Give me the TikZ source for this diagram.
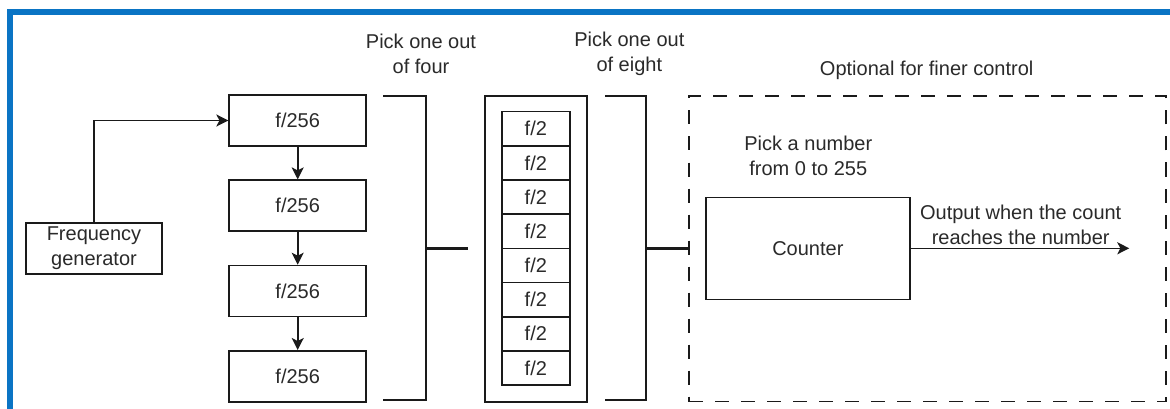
\documentclass[tikz,border=0pt]{standalone}
\usepackage{fontspec}
\setmainfont{Liberation Sans}
\usetikzlibrary{arrows.meta}
\definecolor{frameblue}{HTML}{0A74C4}
\definecolor{ink}{HTML}{1A1A1A}
\definecolor{txt}{HTML}{2A2A2A}
\tikzset{
  lbl/.style={font=\fontsize{20}{25}\selectfont, text=txt, align=center, inner sep=0pt},
  box/.style={draw=ink, line width=1.6pt, rectangle, inner sep=0pt, font=\fontsize{20}{25}\selectfont, text=txt, align=center},
  brk/.style={draw=ink, line width=2.4pt},
  arr/.style={draw=ink, line width=1.6pt, -{Stealth[length=12pt,width=12pt,inset=3pt]}},
  dashbox/.style={draw=ink, line width=1.8pt, dash pattern=on 14pt off 12pt, rectangle, inner sep=0pt}
}
\begin{document}
\begin{tikzpicture}[x=1pt,y=-1pt]
\useasboundingbox (0,0) rectangle (1170,409);
\fill[white] (0,0) rectangle (1170,409);
% blue frame
\draw[frameblue, line width=6pt] (9.7,415) -- (9.7,12) -- (1175,12);

% frequency generator
\node[box, minimum width=136pt, minimum height=51pt] (gen) at (94,248.5) {Frequency\\generator};

% f/256 chain
\node[box, minimum width=137pt, minimum height=51pt] (d1) at (297.7,120.5) {f/256};
\node[box, minimum width=137pt, minimum height=51pt] (d2) at (297.7,205.7) {f/256};
\node[box, minimum width=137pt, minimum height=51pt] (d3) at (297.7,291) {f/256};
\node[box, minimum width=137pt, minimum height=51pt] (d4) at (297.7,376.3) {f/256};
\draw[arr] (gen.north) |- (d1.west);
\draw[arr] (d1.south) -- (d2.north);
\draw[arr] (d2.south) -- (d3.north);
\draw[arr] (d3.south) -- (d4.north);

% bracket 1
\coordinate (b1t) at (383,96);
\coordinate (b1tr) at (426,96);
\coordinate (b1br) at (426,400);
\coordinate (b1b) at (383,400);
\coordinate (b1m) at (426,248.3);
\coordinate (b1e) at (468,248.3);
\draw[brk] (b1t) -- (b1tr) -- (b1br) -- (b1b);
\draw[brk] (b1m) -- (b1e);
\node[lbl] (l1) at (421,54) {Pick one out\\of four};

% f/2 stack
\node[box, minimum width=102pt, minimum height=306pt] (fbox) at (536,249) {};
\foreach \i in {0,...,7} {
  \node[box, minimum width=68.3pt, minimum height=34.17pt] (c\i) at (535.85,{128.78+34.17*\i}) {f/2};
}

% bracket 2
\coordinate (b2t) at (605,96);
\coordinate (b2tr) at (645.7,96);
\coordinate (b2br) at (645.7,400);
\coordinate (b2b) at (605,400);
\coordinate (b2m) at (645.7,248.3);
\draw[brk] (b2t) -- (b2tr) -- (b2br) -- (b2b);
\node[lbl] (l2) at (629.3,54) {Pick one out\\of eight};

% optional block
\node[dashbox, minimum width=477pt, minimum height=305.5pt] (opt) at (927.5,248.75) {};
\draw[brk] (b2m) -- (b2m -| opt.west);
\node[lbl] (l3) at (926.7,70) {Optional for finer control};
\node[lbl] (l4) at (808.3,156) {Pick a number\\from 0 to 255};
\node[box, minimum width=204.3pt, minimum height=102pt] (cnt) at (807.85,248.3) {Counter};
\coordinate (out) at (1129.3,248.3);
\draw[arr] (cnt.east) -- (out);
\node[lbl] (l5) at (1020.7,224.5) {Output when the count\\reaches the number};
\end{tikzpicture}
\end{document}
